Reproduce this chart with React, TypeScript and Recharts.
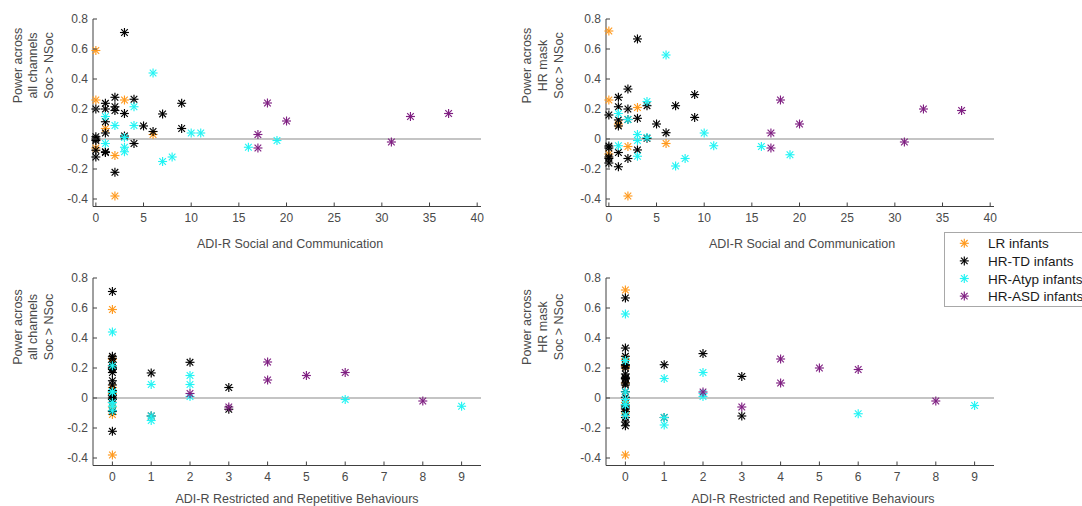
import React from 'react';
import { ScatterChart, Scatter, XAxis, YAxis, ReferenceLine } from 'recharts';

// ---- groups ----
const groupNames = ['LR infants', 'HR-TD infants', 'HR-Atyp infants', 'HR-ASD infants'];
const groupColors = ['#ff9a1f', '#000000', '#22f4f4', '#7f1f82'];

// ---- LR infants ----
const lrSocial = [0, 0, 0, 1, 2, 2, 3, 6];
const lrRRB = [0, 0, 0, 0, 0, 0, 0, 0];
const lrAllCh = [0.59, 0.26, -0.06, 0.07, -0.11, -0.38, 0.26, 0.03];
const lrMask = [0.72, 0.26, -0.1, 0.1, -0.05, -0.38, 0.21, -0.03];

// ---- HR-TD infants ----
const tdSocial = [3, 0, 0, 0, 0, 0, 0, 1, 1, 1, 1, 1, 1, 2, 2, 2, 2, 3, 3, 4, 4, 5, 6, 7, 9, 9];
const tdRRB = [0, 0, 0, 0, 0, 1, 3, 0, 0, 0, 0, 0, 0, 0, 0, 0, 0, 0, 0, 0, 0, 0, 0, 1, 2, 3];
const tdAllCh = [0.71, 0.2, 0.015, 0.0, -0.01, -0.12, -0.075, 0.238, 0.2, 0.115, 0.04, -0.085, -0.09, 0.278, 0.215, 0.19, -0.222, 0.17, 0.02, 0.265, -0.03, 0.087, 0.05, 0.167, 0.238, 0.07];
const tdMask = [0.667, 0.16, -0.047, -0.06, -0.16, -0.13, -0.12, 0.278, 0.215, 0.127, 0.087, -0.09, -0.185, 0.333, 0.2, 0.13, -0.13, 0.138, -0.073, 0.222, 0.005, 0.1, 0.042, 0.222, 0.296, 0.144];

// ---- HR-Atyp infants ----
const atSocial = [6, 1, 1, 2, 3, 3, 3, 4, 4, 7, 8, 10, 11, 16, 19];
const atRRB = [0, 2, 0, 1, 2, 0, 0, 0, 2, 1, 1, 0, 0, 9, 6];
const atAllCh = [0.44, 0.15, -0.03, 0.09, 0.01, -0.055, -0.085, 0.215, 0.09, -0.15, -0.12, 0.04, 0.04, -0.055, -0.01];
const atMask = [0.56, 0.17, -0.045, 0.13, 0.03, -0.01, -0.115, 0.25, 0.01, -0.18, -0.13, 0.04, -0.045, -0.05, -0.105];

// ---- HR-ASD infants ----
const asdSocial = [18, 20, 17, 17, 31, 33, 37];
const asdRRB = [4, 4, 2, 3, 8, 5, 6];
const asdAllCh = [0.24, 0.12, 0.03, -0.06, -0.02, 0.15, 0.17];
const asdMask = [0.26, 0.1, 0.04, -0.06, -0.02, 0.2, 0.19];

// ---- axes ----
const socialTicks = [0, 5, 10, 15, 20, 25, 30, 35, 40];
const socialDomain = [-0.3, 40.4];
const rrbTicks = [0, 1, 2, 3, 4, 5, 6, 7, 8, 9];
const rrbDomain = [-0.5, 9.5];
const powerTicks = [-0.4, -0.2, 0, 0.2, 0.4, 0.6, 0.8];
const powerDomain = [-0.45, 0.8];

const xLabelSocial = 'ADI-R Social and Communication';
const xLabelRRB = 'ADI-R Restricted and Repetitive Behaviours';
const yLabelAll = ['Power across', 'all channels', 'Soc > NSoc'];
const yLabelMask = ['Power across', 'HR mask', 'Soc > NSoc'];

const groupsX = {
  social: [lrSocial, tdSocial, atSocial, asdSocial],
  rrb: [lrRRB, tdRRB, atRRB, asdRRB],
};
const groupsY = {
  all: [lrAllCh, tdAllCh, atAllCh, asdAllCh],
  mask: [lrMask, tdMask, atMask, asdMask],
};

const FONT = '"Liberation Sans", Arial, Helvetica, sans-serif';
const AXIS = '#404040';
const TEXT = '#4a4a4a';

const makeStar = (color: string) => (props: any) => {
  const { cx, cy } = props;
  if (cx == null || cy == null) return <g />;
  const r = 4.5;
  const d = 3.3;
  return (
    <g stroke={color} strokeWidth={1.15}>
      <line x1={cx - r} y1={cy} x2={cx + r} y2={cy} />
      <line x1={cx} y1={cy - r} x2={cx} y2={cy + r} />
      <line x1={cx - d} y1={cy - d} x2={cx + d} y2={cy + d} />
      <line x1={cx - d} y1={cy + d} x2={cx + d} y2={cy - d} />
    </g>
  );
};

const XTick = (props: any) => {
  const { x, y, payload } = props;
  return (
    <g>
      <line x1={x} y1={y} x2={x} y2={y - 4} stroke={AXIS} strokeWidth={1} />
      <text x={x} y={y + 15} textAnchor="middle" fontSize={12} fill={TEXT} fontFamily={FONT}>
        {payload.value}
      </text>
    </g>
  );
};

const YTick = (props: any) => {
  const { x, y, payload } = props;
  return (
    <g>
      <line x1={x} y1={y} x2={x + 4} y2={y} stroke={AXIS} strokeWidth={1} />
      <text x={x - 5} y={y + 4} textAnchor="end" fontSize={12} fill={TEXT} fontFamily={FONT}>
        {payload.value}
      </text>
    </g>
  );
};

const PLOT_W = 388;
const PLOT_H = 187.5;
const CH_W = 520;
const CH_H = 240;

type PanelProps = { plotLeft: number; plotTop: number; xKind: 'social' | 'rrb'; yKind: 'all' | 'mask' };

const Panel = ({ plotLeft, plotTop, xKind, yKind }: PanelProps) => {
  const xs = groupsX[xKind];
  const ys = groupsY[yKind];
  const series = groupNames.map((name, g) => ({
    name,
    color: groupColors[g],
    data: xs[g].map((xv, i) => ({ x: xv, y: ys[g][i] })),
  }));
  const marginTop = 15;
  const yAxisW = 60;
  const marginLeft = 10;
  const marginRight = CH_W - marginLeft - yAxisW - PLOT_W;
  const xAxisH = 30;
  const marginBottom = CH_H - marginTop - PLOT_H - xAxisH;
  return (
    <div style={{ position: 'absolute', left: plotLeft - marginLeft - yAxisW, top: plotTop - marginTop }}>
      <ScatterChart
        width={CH_W}
        height={CH_H}
        margin={{ top: marginTop, left: marginLeft, right: marginRight, bottom: marginBottom }}
      >
        <XAxis
          type="number"
          dataKey="x"
          domain={xKind === 'social' ? socialDomain : rrbDomain}
          ticks={xKind === 'social' ? socialTicks : rrbTicks}
          interval={0}
          tickSize={0}
          tickMargin={0}
          tickLine={false}
          tick={<XTick />}
          height={xAxisH}
          axisLine={{ stroke: AXIS, strokeWidth: 1 }}
        />
        <YAxis
          type="number"
          dataKey="y"
          domain={powerDomain}
          ticks={powerTicks}
          interval={0}
          tickSize={0}
          tickMargin={0}
          tickLine={false}
          tick={<YTick />}
          width={yAxisW}
          axisLine={{ stroke: AXIS, strokeWidth: 1 }}
        />
        <ReferenceLine y={0} stroke="#c4c4c4" strokeWidth={2} />
        {series.map((s) => (
          <Scatter
            key={s.name}
            name={s.name}
            data={s.data}
            fill={s.color}
            shape={makeStar(s.color)}
            isAnimationActive={false}
          />
        ))}
      </ScatterChart>
    </div>
  );
};

const YLabel = ({ lines, xs, cy }: { lines: string[]; xs: number[]; cy: number }) => (
  <g>
    {lines.map((t, i) => (
      <text
        key={i}
        x={xs[i]}
        y={cy}
        transform={`rotate(-90 ${xs[i]} ${cy})`}
        textAnchor="middle"
        dominantBaseline="central"
        fontSize={12.5}
        fill={TEXT}
        fontFamily={FONT}
      >
        {t}
      </text>
    ))}
  </g>
);

export default function App() {
  return (
    <div style={{ position: 'absolute', left: 0, top: 0, width: 1082, height: 506, background: '#fff', overflow: 'hidden' }}>
      <Panel plotLeft={93} plotTop={19} xKind="social" yKind="all" />
      <Panel plotLeft={606} plotTop={19} xKind="social" yKind="mask" />
      <Panel plotLeft={93} plotTop={278.3} xKind="rrb" yKind="all" />
      <Panel plotLeft={606} plotTop={278.3} xKind="rrb" yKind="mask" />
      <svg width={1082} height={506} style={{ position: 'absolute', left: 0, top: 0, pointerEvents: 'none' }}>
        <YLabel lines={yLabelAll} xs={[17.5, 33, 48.5]} cy={65.5} />
        <YLabel lines={yLabelMask} xs={[527, 543, 559]} cy={65.5} />
        <YLabel lines={yLabelAll} xs={[17.5, 33, 48.5]} cy={327} />
        <YLabel lines={yLabelMask} xs={[527, 543, 559]} cy={327} />
        <text x={290} y={247.5} textAnchor="middle" fontSize={12.5} fill={TEXT} fontFamily={FONT}>{xLabelSocial}</text>
        <text x={802} y={247.5} textAnchor="middle" fontSize={12.5} fill={TEXT} fontFamily={FONT}>{xLabelSocial}</text>
        <text x={297} y={503} textAnchor="middle" fontSize={12.5} fill={TEXT} fontFamily={FONT}>{xLabelRRB}</text>
        <text x={813} y={503} textAnchor="middle" fontSize={12.5} fill={TEXT} fontFamily={FONT}>{xLabelRRB}</text>
        <rect x={944.5} y={232.5} width={200} height={74} fill="#fff" stroke="#a8a8a8" strokeWidth={1} />
        {groupNames.map((n, i) => {
          const cy = 243.3 + i * 17.6;
          const Star = makeStar(groupColors[i]);
          return (
            <g key={n}>
              <Star cx={964.3} cy={cy} />
              <text x={988} y={cy + 5} fontSize={13.5} fill="#1a1a1a" fontFamily={FONT}>{n}</text>
            </g>
          );
        })}
      </svg>
    </div>
  );
}
